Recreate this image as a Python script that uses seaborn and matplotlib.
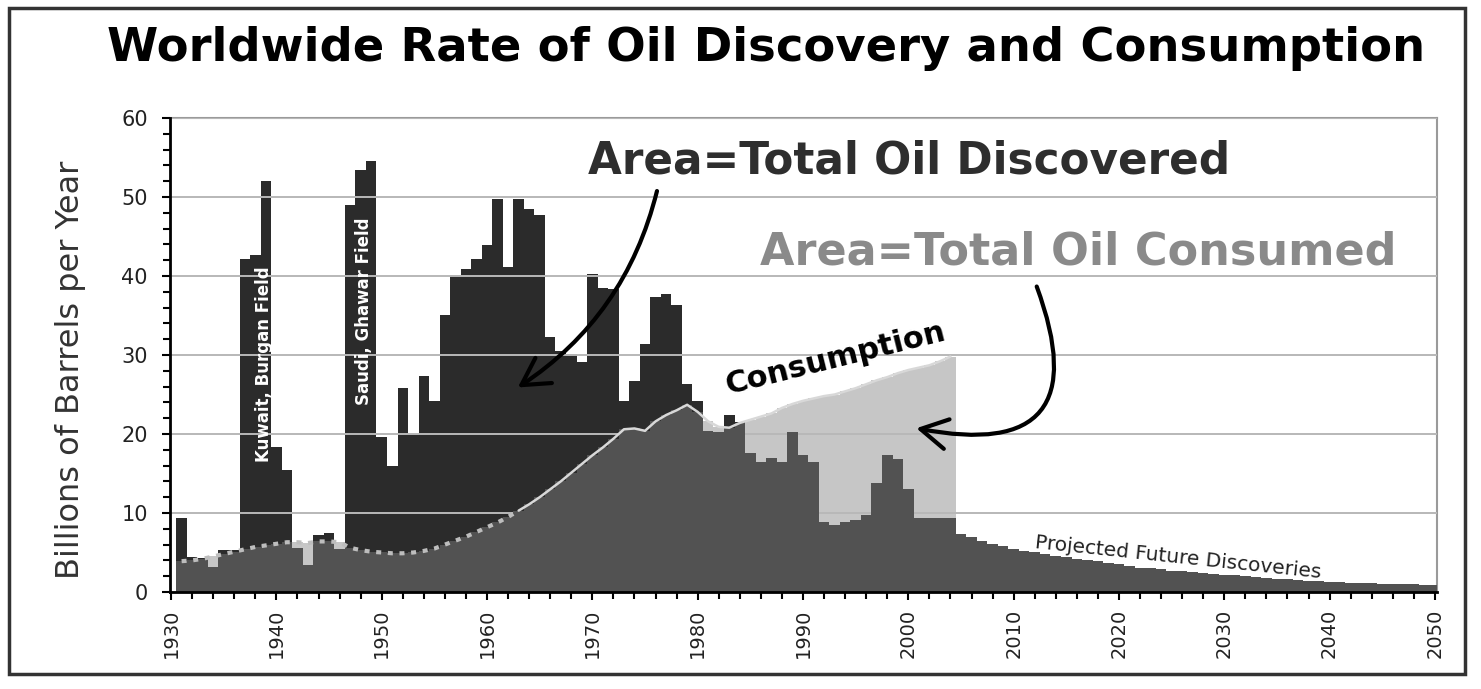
import numpy as np
import matplotlib
matplotlib.use("Agg")
import matplotlib.pyplot as plt
import seaborn as sns
from matplotlib.ticker import MultipleLocator
from matplotlib.patches import Rectangle

# historic years, discoveries and consumption (billions of barrels per year)
years = list(range(1931, 2005))
discovered = [
    9.4, 4.4, 4.3, 3.2, 5.3, 5.3, 42.2, 42.6, 52.0, 18.3,   # 1931-1940
    15.5, 5.6, 3.4, 7.2, 7.5, 5.5, 49.0, 53.4, 54.6, 19.6,  # 1941-1950
    16.0, 25.8, 20.0, 27.4, 24.2, 35.1, 40.1, 40.9, 42.2, 43.9,  # 1951-1960
    49.8, 41.2, 49.8, 48.5, 47.7, 32.3, 30.5, 30.1, 29.1, 40.3,  # 1961-1970
    38.5, 38.4, 24.2, 26.7, 31.4, 37.3, 37.7, 36.3, 26.3, 24.2,  # 1971-1980
    20.4, 20.3, 22.4, 21.5, 17.6, 16.4, 17.0, 16.4, 20.2, 17.4,  # 1981-1990
    16.4, 8.9, 8.5, 8.9, 9.1, 9.8, 13.8, 17.4, 16.8, 13.0,  # 1991-2000
    9.4, 9.4, 9.4, 9.4,  # 2001-2004
]
consumed = [
    3.9, 4.0, 4.2, 4.5, 4.8, 5.1, 5.4, 5.7, 5.9, 6.1,   # 1931-1940
    6.3, 6.3, 6.2, 6.4, 6.4, 6.3, 5.6, 5.3, 5.1, 5.0,   # 1941-1950
    4.9, 4.9, 5.0, 5.2, 5.5, 6.0, 6.5, 7.0, 7.6, 8.2,   # 1951-1960
    8.8, 9.5, 10.3, 11.1, 12.0, 13.0, 14.0, 15.1, 16.2, 17.3,  # 1961-1970
    18.3, 19.4, 20.6, 20.7, 20.4, 21.6, 22.4, 23.0, 23.7, 22.8,  # 1971-1980
    21.6, 20.9, 20.8, 21.4, 21.8, 22.2, 22.6, 23.3, 23.8, 24.2,  # 1981-1990
    24.5, 24.8, 25.0, 25.4, 25.8, 26.3, 26.8, 27.2, 27.7, 28.1,  # 1991-2000
    28.4, 28.7, 29.2, 29.8,  # 2001-2004
]

# projected future discoveries
proj_years = list(range(2005, 2051))
projected = [
    7.3, 6.9, 6.5, 6.1, 5.8, 5.5, 5.2, 5.0, 4.8, 4.6,
    4.4, 4.2, 4.0, 3.9, 3.7, 3.5, 3.3, 3.1, 3.0, 2.9,
    2.7, 2.6, 2.5, 2.4, 2.3, 2.2, 2.1, 2.0, 1.9, 1.8,
    1.7, 1.6, 1.5, 1.4, 1.35, 1.3, 1.25, 1.2, 1.15, 1.1,
    1.05, 1.0, 1.0, 0.95, 0.9, 0.9,
]

dark = "#2b2b2b"
mid = "#525252"
light = "#c6c6c6"

sns.set_theme(style="white")
plt.rcParams["font.family"] = ["DejaVu Sans"]

fig = plt.figure(figsize=(14.81, 6.89), dpi=100)
ax = fig.add_axes([0.1148, 0.1408, 0.8555, 0.6879])

overlap = np.minimum(discovered, consumed)

sns.barplot(x=years, y=consumed, native_scale=True, width=1, color=light,
            saturation=1, linewidth=0, errorbar=None, ax=ax, zorder=0.3)
sns.barplot(x=years, y=discovered, native_scale=True, width=1, color=dark,
            saturation=1, linewidth=0, errorbar=None, ax=ax, zorder=2)
sns.barplot(x=years, y=overlap, native_scale=True, width=1, color=mid,
            saturation=1, linewidth=0, errorbar=None, ax=ax, zorder=3)
sns.barplot(x=proj_years, y=projected, native_scale=True, width=1, color=mid,
            saturation=1, linewidth=0, errorbar=None, ax=ax, zorder=3)

# consumption line: dotted early part, solid later part
yr = np.array(years)
cons = np.array(consumed)
early = yr <= 1963
sns.lineplot(x=yr[early], y=cons[early], color="#bdbdbd", lw=3,
             linestyle=(0, (1.2, 1.6)), ax=ax, zorder=4)
sns.lineplot(x=yr[yr >= 1963], y=cons[yr >= 1963], color="#d8d8d8", lw=1.8,
             ax=ax, zorder=4)

ax.set_xlim(1929.9, 2050.2)
ax.set_ylim(0, 60)
ax.yaxis.set_major_locator(MultipleLocator(10))
ax.yaxis.set_minor_locator(MultipleLocator(2))
ax.xaxis.set_major_locator(MultipleLocator(10))
ax.xaxis.set_minor_locator(MultipleLocator(2))
ax.grid(axis="y", color="#b8b8b8", lw=1.4, zorder=1)
ax.set_axisbelow(False)
for gl in ax.get_ygridlines():
    gl.set_zorder(1)

for side in ["top", "right"]:
    ax.spines[side].set_color("#9a9a9a")
    ax.spines[side].set_linewidth(1.5)
for side in ["left", "bottom"]:
    ax.spines[side].set_color("black")
    ax.spines[side].set_linewidth(2)
    ax.spines[side].set_zorder(6)

ax.tick_params(axis="both", which="both", direction="out", color="black",
               bottom=True, left=True, width=1.5)
ax.tick_params(axis="both", which="major", length=6)
ax.tick_params(axis="both", which="minor", length=5)
ax.tick_params(axis="y", labelsize=15, labelcolor="#222222", pad=10)
ax.tick_params(axis="x", labelsize=14, labelcolor="#222222", labelrotation=90, pad=6)

ax.set_xlabel("")
ax.set_ylabel("Billions of Barrels per Year", fontsize=23, color="#333333")
ax.yaxis.set_label_coords(-0.066, 0.468)

fig.text(0.517, 0.93, "Worldwide Rate of Oil Discovery and Consumption",
         ha="center", va="center", fontsize=33.5, fontweight="bold", color="black")

ax.text(2000.1, 54.6, "Area=Total Oil Discovered", ha="center", va="center",
        fontsize=31.5, fontweight="bold", color="#2e2e2e", zorder=7)
ax.text(2016.1, 43.1, "Area=Total Oil Consumed", ha="center", va="center",
        fontsize=32, fontweight="bold", color="#8a8a8a", zorder=7)
ax.text(1993.1, 29.5, "Consumption", ha="center", va="center", rotation=14,
        fontsize=22, fontweight="bold", color="black", zorder=7)
ax.text(1938.8, 28.8, "Kuwait, Burgan Field", ha="center", va="center",
        rotation=90, fontsize=12, fontweight="bold", color="white", zorder=7)
ax.text(1948.3, 35.5, "Saudi, Ghawar Field", ha="center", va="center",
        rotation=90, fontsize=12, fontweight="bold", color="white", zorder=7)
ax.text(2025.6, 4.3, "Projected Future Discoveries", ha="center", va="center",
        rotation=-6, fontsize=14.5, color="#222222", zorder=7)

arrow = "->,head_length=1.6,head_width=0.9"
ax.annotate("", xy=(1962.7, 25.7), xytext=(1976.2, 51.1),
            arrowprops=dict(arrowstyle=arrow, color="black", lw=3,
                            connectionstyle="arc3,rad=-0.2"), zorder=8)
ax.annotate("", xy=(2000.5, 20.8), xytext=(2012.1, 39.0),
            arrowprops=dict(arrowstyle=arrow, color="black", lw=3,
                            connectionstyle="arc3,rad=-0.9"), zorder=8)

fig.patches.append(Rectangle((0.006, 0.022), 0.983, 0.966, transform=fig.transFigure,
                             fill=False, edgecolor="#333333", lw=2.5))

fig.savefig("out.png", dpi=100)
